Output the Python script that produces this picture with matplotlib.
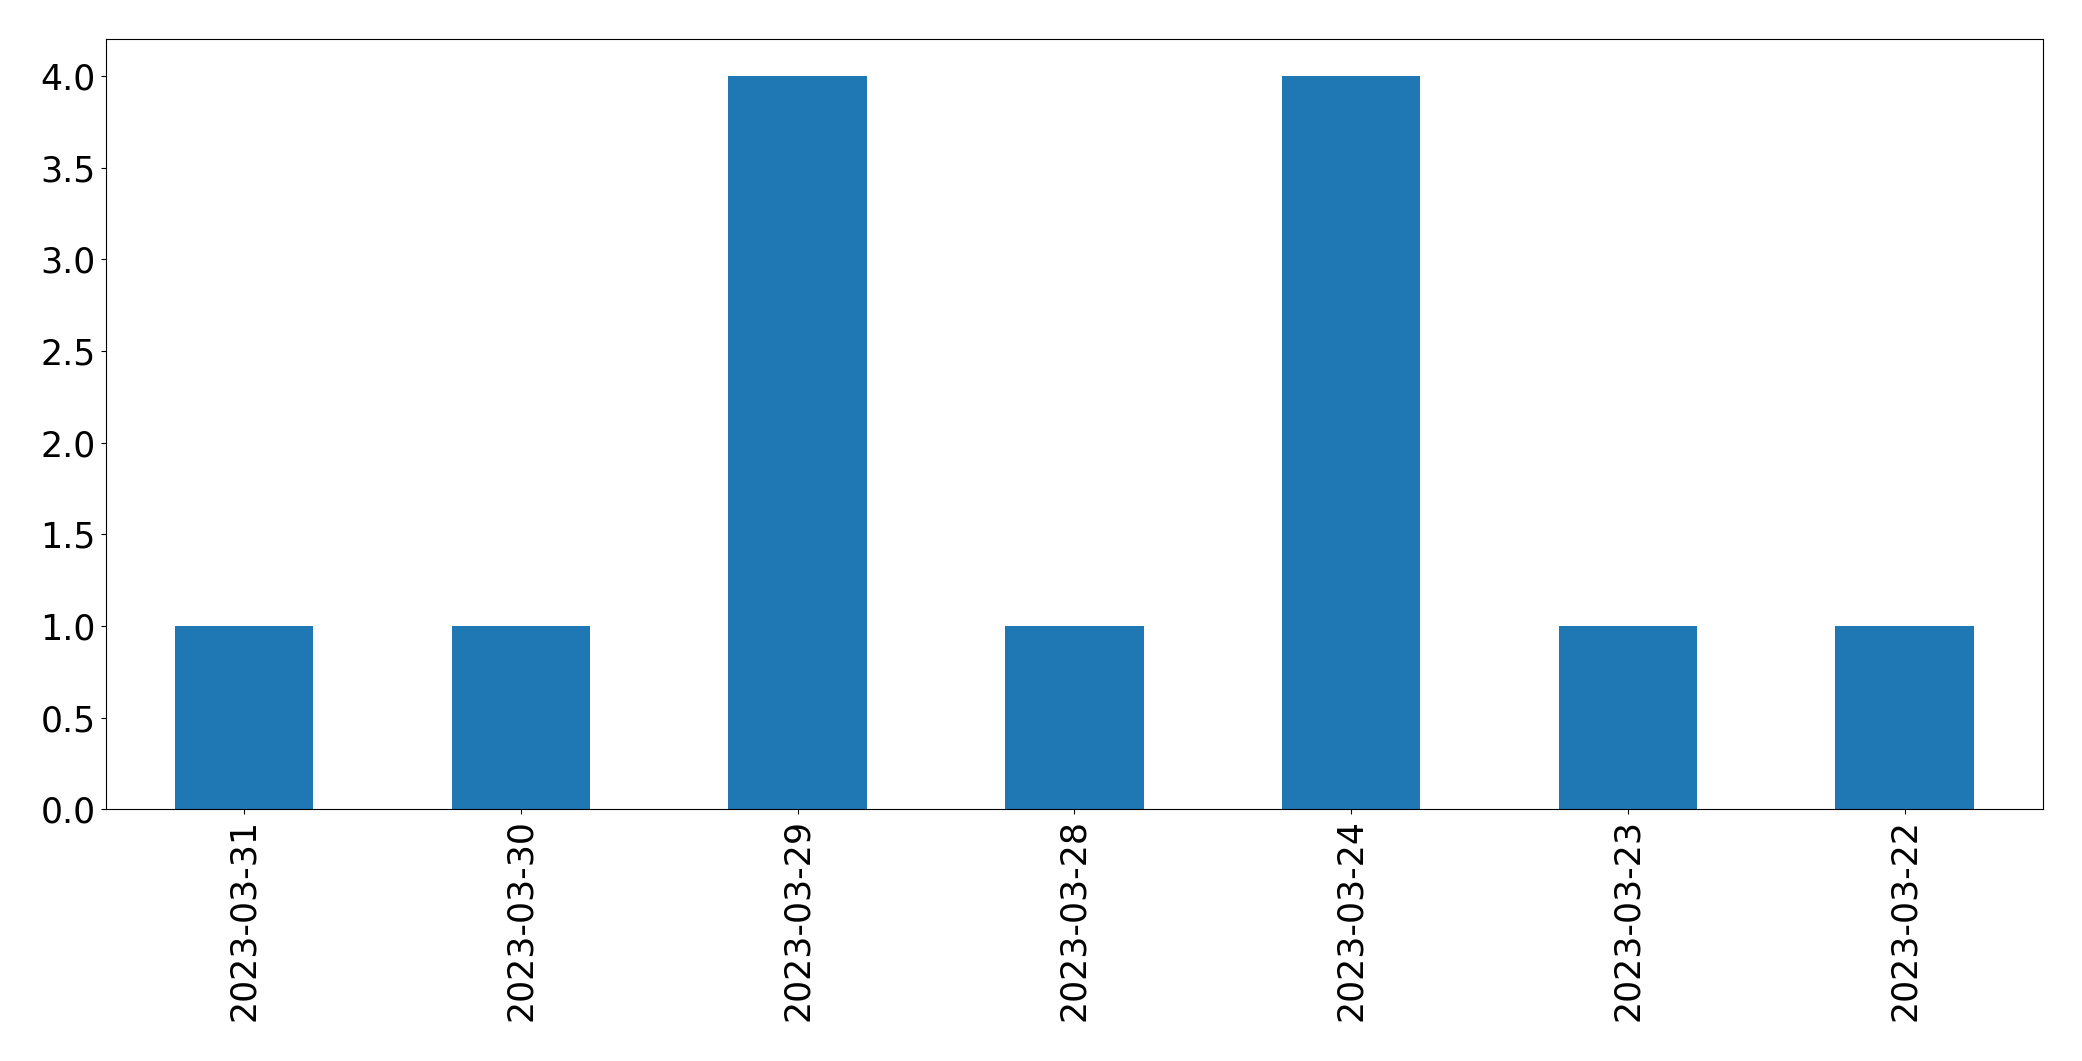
import matplotlib
matplotlib.use('Agg')
import matplotlib.pyplot as plt
import numpy as np

dates = ['2023-03-31', '2023-03-30', '2023-03-29', '2023-03-28',
         '2023-03-24', '2023-03-23', '2023-03-22']
counts = [1, 1, 4, 1, 4, 1, 1]

fig = plt.figure(figsize=(20.82, 10.61), dpi=100)
ax = fig.add_axes([0.0507, 0.2372, 0.9306, 0.7258])

x = np.arange(len(dates))
ax.bar(x, counts, width=0.5, color='#1f77b4')
ax.set_xlim(-0.5, len(dates) - 0.5)
ax.set_ylim(0, 4.2)
ax.set_xticks(x)
ax.set_xticklabels(dates, rotation=90)
ax.tick_params(labelsize=25)

fig.savefig('out.png', dpi=100)
